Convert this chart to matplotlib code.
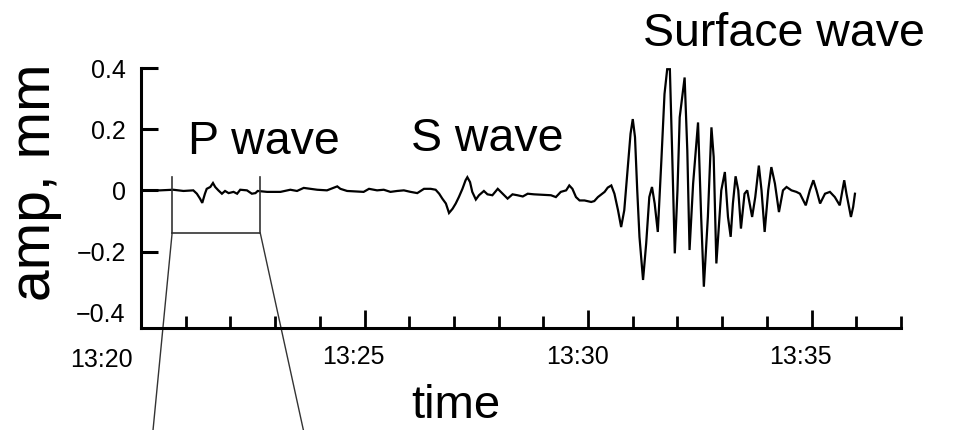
import matplotlib
matplotlib.use("Agg")
import matplotlib.pyplot as plt
import matplotlib.transforms as mtransforms
from matplotlib.ticker import FixedLocator

plt.rcParams['font.family'] = ['Liberation Sans', 'DejaVu Sans']

# ---- data: minutes after 13:20, amplitude in mm ----
times_min = [0.00, 0.43, 0.72, 0.95, 1.17, 1.25, 1.32, 1.37, 1.43, 1.47, 1.55, 1.61, 1.66, 1.73,
             1.81, 1.88, 1.96, 2.07, 2.15, 2.22, 2.37, 2.48, 2.56, 2.61, 2.82, 3.12, 3.34, 3.49,
             3.64, 3.94, 4.16, 4.39, 4.46, 4.61, 4.98, 5.10, 5.28, 5.43, 5.58, 5.73, 5.88, 6.03,
             6.18, 6.33, 6.48, 6.59, 6.67, 6.74, 6.82, 6.89, 6.97, 7.04, 7.11, 7.19, 7.26, 7.30,
             7.36, 7.41, 7.49, 7.56, 7.67, 7.75, 7.86, 7.98, 8.09, 8.20, 8.31, 8.42, 8.54, 8.65,
             8.79, 9.17, 9.28, 9.39, 9.51, 9.58, 9.65, 9.73, 9.81, 9.92, 10.07, 10.14, 10.22,
             10.37, 10.44, 10.52, 10.59, 10.67, 10.74, 10.81, 10.89, 10.95, 11.00, 11.05, 11.10,
             11.15, 11.23, 11.30, 11.37, 11.43, 11.49, 11.56, 11.64, 11.71, 11.77, 11.83, 11.88,
             11.94, 12.00, 12.05, 12.16, 12.22, 12.27, 12.35, 12.46, 12.53, 12.59, 12.68, 12.76,
             12.81, 12.87, 12.98, 13.06, 13.13, 13.19, 13.24, 13.30, 13.36, 13.42, 13.50, 13.56,
             13.67, 13.74, 13.82, 13.88, 13.95, 14.03, 14.10, 14.18, 14.27, 14.36, 14.44, 14.55,
             14.66, 14.74, 14.87, 14.96, 15.04, 15.11, 15.19, 15.30, 15.41, 15.52, 15.63, 15.73,
             15.78, 15.88, 15.93, 15.97]
amp_mm = [0.000, 0.000, 0.002, -0.002, 0.000, -0.011, -0.027, -0.041, -0.011, 0.005, 0.011, 0.024,
          0.011, 0.000, -0.011, -0.002, -0.009, -0.005, -0.011, 0.002, 0.000, -0.011, -0.009,
          -0.002, -0.005, -0.005, 0.002, -0.002, 0.008, 0.002, 0.000, 0.013, 0.005, -0.002,
          -0.005, 0.005, 0.000, 0.002, -0.005, -0.002, 0.000, -0.005, -0.009, 0.005, 0.005,
          0.002, -0.011, -0.027, -0.043, -0.074, -0.060, -0.043, -0.022, 0.005, 0.033, 0.043,
          0.027, -0.005, -0.030, -0.016, -0.002, -0.013, -0.016, 0.005, -0.011, -0.027, -0.013,
          -0.016, -0.020, -0.011, -0.013, -0.016, -0.022, -0.005, 0.000, 0.016, 0.005, -0.022,
          -0.033, -0.033, -0.038, -0.035, -0.022, -0.005, 0.009, 0.016, -0.011, -0.065, -0.120,
          -0.065, 0.076, 0.185, 0.233, 0.174, 0.000, -0.152, -0.293, -0.174, -0.022, 0.011,
          -0.043, -0.136, 0.098, 0.315, 0.396, 0.396, 0.130, -0.206, 0.000, 0.239, 0.369, 0.130,
          -0.195, 0.022, 0.222, -0.087, -0.315, -0.087, 0.206, 0.109, -0.239, 0.000, 0.060,
          -0.087, -0.152, -0.043, 0.046, 0.000, -0.125, -0.011, 0.000, -0.087, -0.022, 0.081,
          0.000, -0.136, 0.000, 0.076, 0.022, -0.071, 0.000, 0.011, 0.000, -0.005, -0.011,
          -0.049, 0.000, 0.033, 0.000, -0.043, -0.011, -0.005, -0.022, -0.049, 0.033, -0.011,
          -0.087, -0.054, -0.011]

y_ticks = [-0.4, -0.2, 0.0, 0.2, 0.4]
y_tick_labels = ['\u22120.4', '\u22120.2', '0', '0.2', '0.4']
x_major_ticks = [0, 5, 10, 15]
x_tick_labels = ['13:20', '13:25', '13:30', '13:35']
x_minor_ticks = [1, 2, 3, 4, 6, 7, 8, 9, 11, 12, 13, 14, 16, 17]

wave_labels = ['P wave', 'S wave', 'Surface wave']
wave_label_pos = [(1.06, 0.119), (6.03, 0.128), (11.23, 0.472)]

# P-wave window (minutes, mm) and zoom connector ends
p_window = (0.695, 2.67, -0.141, 0.043)
connector_bottom = (0.27, 3.63, -0.782)

fig = plt.figure(figsize=(9.6, 4.3), dpi=100)
ax = fig.add_axes([141/960, (430-328)/430, 760/960, (328-68)/430])

ax.plot(times_min, amp_mm, color='black', lw=1.6, solid_joinstyle='miter')

ax.set_xlim(0, 17)
ax.set_ylim(-0.45, 0.4)

for s in ['top', 'right']:
    ax.spines[s].set_visible(False)
for s in ['left', 'bottom']:
    ax.spines[s].set_linewidth(2.2)
    ax.spines[s].set_color('black')

ax.set_yticks(y_ticks)
ax.set_yticklabels(y_tick_labels)
ax.tick_params(axis='y', direction='in', length=12, width=2.2, pad=11, labelsize=18)
ax.yaxis.get_major_ticks()[0].tick1line.set_visible(False)

ax.set_xticks(x_major_ticks)
ax.set_xticklabels(x_tick_labels)
ax.xaxis.set_minor_locator(FixedLocator(x_minor_ticks))
ax.tick_params(axis='x', which='major', direction='in', length=13, width=2.0, pad=12, labelsize=18)
ax.tick_params(axis='x', which='minor', direction='in', length=8.5, width=2.0)

for i, lab in enumerate(ax.get_xticklabels()):
    dx = -40 if i == 0 else -11
    dy = -3 if i == 0 else 0
    lab.set_transform(lab.get_transform() + mtransforms.ScaledTranslation(dx/100, dy/100, fig.dpi_scale_trans))

ax.set_xlabel('time', fontsize=34, ha='left', va='baseline')
ax.xaxis.set_label_coords((411.7-141)/760, (328-418)/260)
ax.set_ylabel('amp, mm', fontsize=41)
ax.yaxis.set_label_coords(-0.104, 0.5615)

for txt, (tx, ty) in zip(wave_labels, wave_label_pos):
    ax.text(tx, ty, txt, fontsize=33.5, ha='left', va='baseline', clip_on=False)

t0, t1, ylo, yhi = p_window
lc = '#333333'
ax.plot([t0, t0], [yhi, ylo], color=lc, lw=1.2, clip_on=False)
ax.plot([t1, t1], [yhi, ylo], color=lc, lw=1.2, clip_on=False)
ax.plot([t0, t1], [ylo, ylo], color=lc, lw=1.2, clip_on=False)
ax.plot([t0, connector_bottom[0]], [ylo, connector_bottom[2]], color=lc, lw=1.0, clip_on=False)
ax.plot([t1, connector_bottom[1]], [ylo, connector_bottom[2]], color=lc, lw=1.0, clip_on=False)

fig.savefig('out.png', dpi=100)
